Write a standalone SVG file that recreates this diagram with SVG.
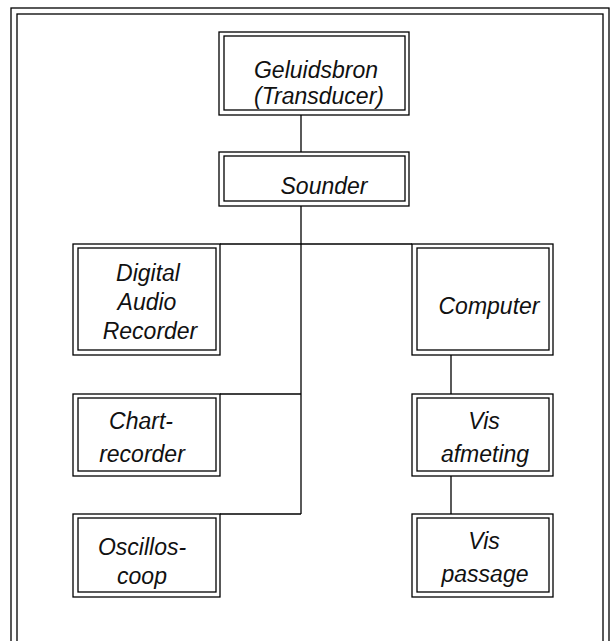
<svg xmlns="http://www.w3.org/2000/svg" width="611" height="641" viewBox="0 0 611 641">
<style>
rect{fill:none;stroke:#000;stroke-width:1.3}
line{stroke:#000;stroke-width:1.3}
text{font-family:"Liberation Sans",Arial,sans-serif;font-style:italic;font-size:23px;fill:#111;text-anchor:middle}
</style>
<rect x="0" y="0" width="611" height="641" style="fill:#fff;stroke:none"/>
<g id="frame">
<rect x="11" y="8" width="598" height="700"/>
<rect x="17" y="14" width="586" height="700"/>
</g>
<g id="connectors">
<line x1="301" y1="115" x2="301" y2="152"/>
<line x1="301" y1="206" x2="301" y2="514"/>
<line x1="220" y1="244" x2="412" y2="244"/>
<line x1="220" y1="394" x2="301" y2="394"/>
<line x1="220" y1="514" x2="301" y2="514"/>
<line x1="451" y1="355" x2="451" y2="394"/>
<line x1="451" y1="476" x2="451" y2="514"/>
</g>
<g id="geluidsbron">
<rect x="219" y="32" width="190" height="83"/><rect x="224" y="36" width="181" height="74"/>
<text x="316" y="78">Geluidsbron</text><text x="319" y="104">(Transducer)</text>
</g>
<g id="sounder">
<rect x="219" y="152" width="190" height="54"/><rect x="224" y="156" width="181" height="45"/>
<text x="324" y="194">Sounder</text>
</g>
<g id="dar">
<rect x="73" y="244" width="147" height="111"/><rect x="78" y="248" width="138" height="102"/>
<text x="148" y="281">Digital</text><text x="147" y="310">Audio</text><text x="150" y="339">Recorder</text>
</g>
<g id="computer">
<rect x="412" y="244" width="141" height="111"/><rect x="417" y="248" width="132" height="102"/>
<text x="489" y="314">Computer</text>
</g>
<g id="chart">
<rect x="73" y="394" width="147" height="82"/><rect x="78" y="398" width="138" height="73"/>
<text x="141" y="429">Chart-</text><text x="142" y="462">recorder</text>
</g>
<g id="visafmeting">
<rect x="412" y="394" width="141" height="82"/><rect x="417" y="398" width="132" height="73"/>
<text x="484" y="429">Vis</text><text x="485" y="462">afmeting</text>
</g>
<g id="osc">
<rect x="73" y="514" width="147" height="83"/><rect x="78" y="518" width="138" height="74"/>
<text x="142" y="555">Oscillos-</text><text x="142" y="584">coop</text>
</g>
<g id="vispassage">
<rect x="412" y="514" width="141" height="83"/><rect x="417" y="518" width="132" height="74"/>
<text x="484" y="549">Vis</text><text x="485" y="582">passage</text>
</g>
</svg>
